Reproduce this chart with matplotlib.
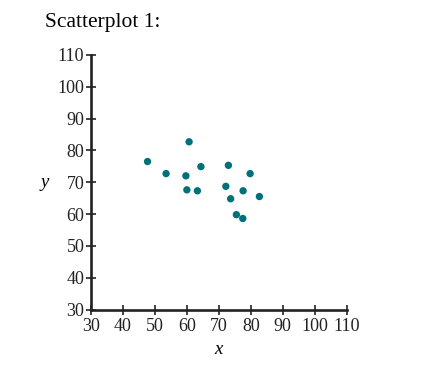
import matplotlib
matplotlib.use("Agg")
import matplotlib.pyplot as plt

# data
x_vals = [47.7, 60.7, 53.5, 59.7, 64.4, 73.0, 79.8, 60.0, 63.3, 72.2, 77.6, 73.7, 82.7, 75.5, 77.5]
y_vals = [76.5, 82.7, 72.7, 72.0, 74.9, 75.3, 72.7, 67.6, 67.3, 68.7, 67.3, 64.8, 65.5, 59.8, 58.6]
ticks = list(range(30, 111, 10))

plt.rcParams['font.family'] = ['Liberation Serif', 'DejaVu Serif']

fig = plt.figure(figsize=(4.4, 3.69), dpi=100)
ax = fig.add_axes([0.2068, 0.1612, 0.581, 0.690])

ax.scatter(x_vals, y_vals, s=28, color='#00707a', edgecolors='none', zorder=3)

ax.set_xlim(30, 110)
ax.set_ylim(30, 110)
ax.set_xticks(ticks)
ax.set_yticks(ticks)

# only left and bottom axes, ticks crossing the line
for side in ['top', 'right']:
    ax.spines[side].set_visible(False)
for side in ['left', 'bottom']:
    ax.spines[side].set_linewidth(1.9)
    ax.spines[side].set_color('#222222')
ax.tick_params(direction='inout', length=6.5, width=1.2, colors='#222222',
               labelsize=13, pad=1.5)
ax.tick_params(axis='x', pad=3)

ax.set_xlabel('x', fontsize=13.5, style='italic', labelpad=4)
ax.set_ylabel('y', fontsize=13.5, style='italic', rotation=0, labelpad=9, va='center')

fig.text(45 / 440, 1 - 27 / 369, 'Scatterplot 1:', fontsize=15.5, va='baseline', ha='left')

fig.savefig('out.png', dpi=100)
